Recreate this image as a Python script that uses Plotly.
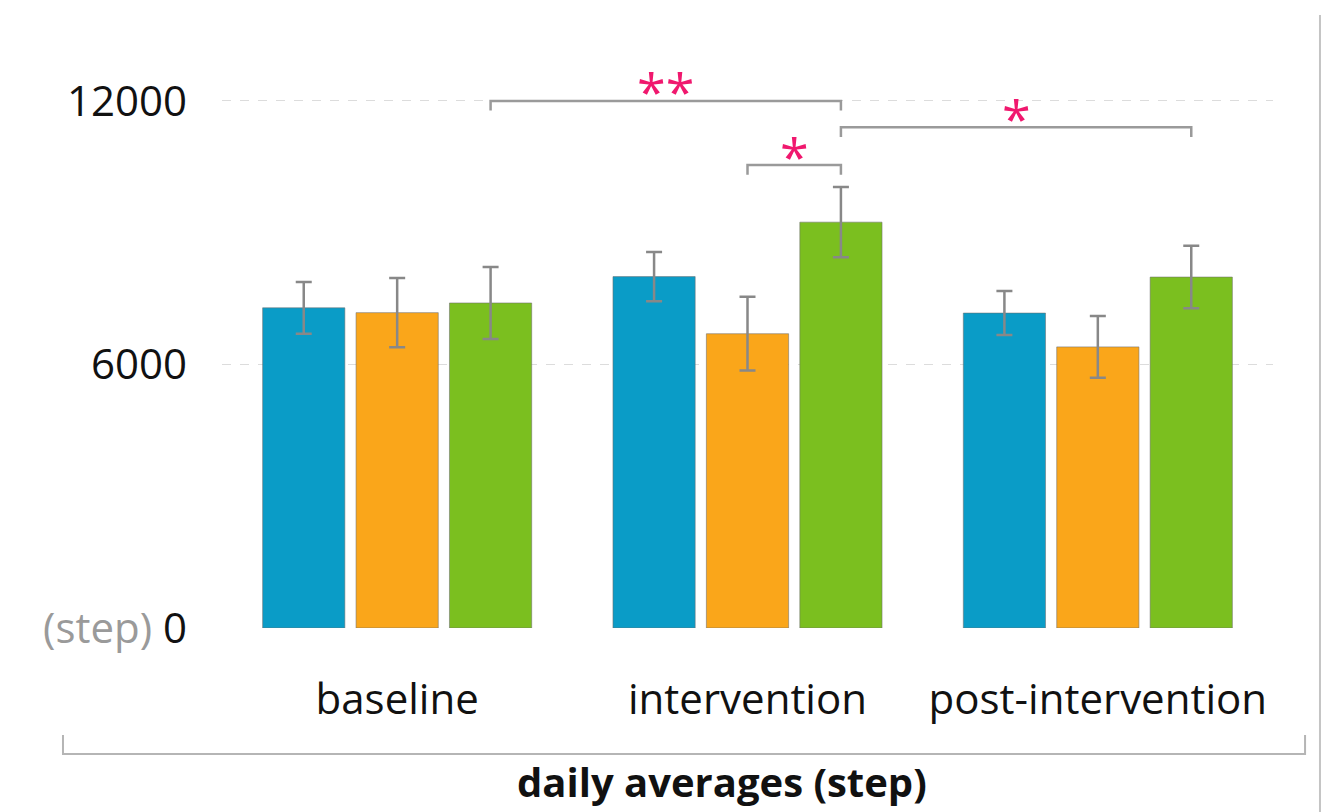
import plotly.graph_objects as go

# ---- data ----
categories = ["baseline", "intervention", "post-intervention"]
series_names = ["group A", "group B", "group C"]
blue_vals = [7290, 8000, 7170]
orange_vals = [7180, 6700, 6400]
green_vals = [7400, 9240, 7990]
blue_err = [590, 560, 500]
orange_err = [790, 840, 705]
green_err = [820, 800, 710]
y_tickvals = [0, 6000, 12000]
y_ticktext = ["<span style='color:#9a9a9a'>(step)</span> 0", "6000", "12000"]
# significance brackets: (category a, series a, category b, series b, level, label)
brackets = [
    (0, 2, 1, 2, 12000, "**"),
    (1, 1, 1, 2, 10540, "*"),
    (1, 2, 2, 2, 11400, "*"),
]
x_title = "daily averages (step)"

colors = ["#0a9cc7", "#faa61a", "#7bbf1f"]
values = [blue_vals, orange_vals, green_vals]
errors = [blue_err, orange_err, green_err]

FONT = "Open Sans"
fig = go.Figure()
for name, vals, errs, col in zip(series_names, values, errors, colors):
    fig.add_trace(go.Bar(
        x=categories, y=vals, name=name,
        marker=dict(color=col, line=dict(color="rgba(110,110,110,0.55)", width=1)),
        error_y=dict(type="data", array=errs, visible=True,
                     color="#888888", thickness=2.5, width=8),
    ))

bargap = 0.2
slot = (1 - bargap) / 3
drop = 220
for ca, sa, cb, sb, lvl, lab in brackets:
    xa = ca + (sa - 1) * slot
    xb = cb + (sb - 1) * slot
    fig.add_shape(type="path",
                  path=f"M {xa} {lvl - drop} L {xa} {lvl} L {xb} {lvl} L {xb} {lvl - drop}",
                  xref="x", yref="y", line=dict(color="#9a9a9a", width=2.5))
    fig.add_annotation(x=(xa + xb) / 2, y=lvl, xref="x", yref="y", text=lab,
                       showarrow=False, yanchor="middle", yshift=10,
                       font=dict(family=FONT, size=52, color="#f0186e"))

# axis-title bracket and right border (decoration)
fig.add_shape(type="path", xref="paper", yref="paper",
              path="M -0.1513 -0.1874 L -0.1513 -0.2207 L 1.0305 -0.2207 L 1.0305 -0.1874",
              line=dict(color="#b5b5b5", width=2))
fig.add_shape(type="line", xref="paper", yref="paper", x0=1.0447, x1=1.0447,
              y0=1.0736, y1=-0.33, line=dict(color="#c4c4c4", width=2))
fig.add_annotation(x=(722 - 222) / 1051, y=(628 - 781) / 571, xref="paper", yref="paper",
                   text=f"<b>{x_title}</b>", showarrow=False, yanchor="middle",
                   font=dict(family=FONT, size=40, color="#111111"))

fig.update_layout(
    width=1340, height=812,
    margin=dict(l=214, r=75, t=49, b=192),
    plot_bgcolor="white", paper_bgcolor="white",
    barmode="group", bargap=bargap, bargroupgap=0.12,
    showlegend=False,
    font=dict(family=FONT, color="#111111"),
)
fig.update_xaxes(showgrid=False, showline=False, ticks="", zeroline=False,
                 range=[-0.5, 2.5], tickfont=dict(family=FONT, size=42, color="#111111"),
                 ticklabelstandoff=43)
fig.update_yaxes(range=[0, 13000], tickvals=y_tickvals, ticktext=y_ticktext,
                 showgrid=True, gridcolor="#dcdcdc", griddash="dash", gridwidth=1,
                 zeroline=False, showline=False, ticks="",
                 tickfont=dict(family=FONT, size=42, color="#111111"),
                 ticklabelstandoff=34)

fig.write_html("out.html")
